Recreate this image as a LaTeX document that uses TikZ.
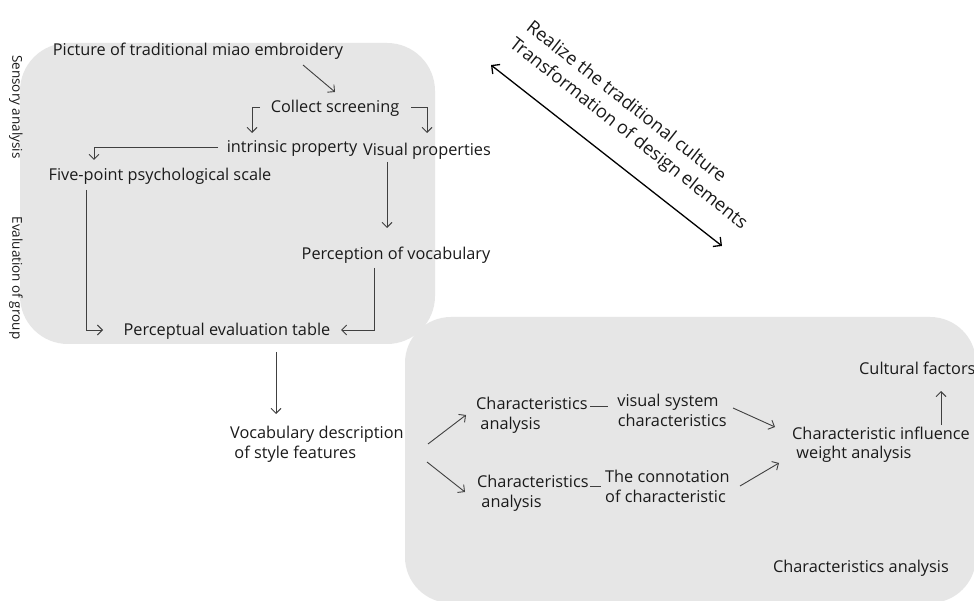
\documentclass[tikz,border=0pt]{standalone}
\usepackage{fontspec}
\setmainfont{Open Sans}
\usetikzlibrary{arrows.meta}
\definecolor{boxgray}{HTML}{E6E6E6}
\definecolor{txt}{HTML}{1A1A1A}
\definecolor{ln}{HTML}{404040}
\tikzset{
  lbl/.style={inner sep=0pt, text=txt, yshift=-1.5pt, font=\fontsize{16.3}{19.5}\selectfont},
  lbl2/.style={lbl, align=left},
  side/.style={inner sep=0pt, text=txt, font=\fontsize{13.5}{15}\selectfont, rotate=-90},
  rot/.style={inner sep=0pt, text=txt, font=\fontsize{18.2}{21}\selectfont, rotate=-38.2},
  conn/.style={draw=ln, line width=0.9pt, -{Straight Barb[length=5pt,width=10pt]}},
  plain/.style={draw=ln, line width=0.9pt},
  bigbox/.style={fill=boxgray, draw=none, rounded corners=48pt}
}
\begin{document}
\begin{tikzpicture}[x=1pt,y=-1pt]
\useasboundingbox (0,0) rectangle (974,601);
\fill[white] (0,0) rectangle (974,601);
% boxes
\path[bigbox] (20,43) rectangle (435,344);
\path[bigbox, rounded corners=46pt] (405,317) rectangle (976,603);

% side labels
\node[side] (sens) at (16,107) {Sensory analysis};
\node[side] (evg) at (16,278) {Evaluation of group};

% left box nodes
\node[lbl] (pic) at (198,50) {Picture of traditional miao embroidery};
\node[lbl] (col) at (335,107) {Collect screening};
\node[lbl] (intr) at (292,147) {intrinsic property};
\node[lbl] (vis) at (427,150) {Visual properties};
\node[lbl] (five) at (160,175) {Five-point psychological scale};
\node[lbl] (percv) at (396,254) {Perception of vocabulary};
\node[lbl] (pet) at (227,330) {Perceptual evaluation table};

% connector points
\coordinate (a1s) at (303,65); \coordinate (a1e) at (335,92);
\coordinate (bls) at (260,107); \coordinate (bl) at (252,107); \coordinate (ble) at (252,133);
\coordinate (brs) at (411,107); \coordinate (br) at (427,107); \coordinate (bre) at (427,133);
\coordinate (ils) at (218,147); \coordinate (il) at (94,147); \coordinate (ile) at (94,160);
\coordinate (fls) at (86,190); \coordinate (fl) at (86,330); \coordinate (fle) at (103,330);
\coordinate (vs) at (387,162); \coordinate (ve) at (387,228);
\coordinate (prs) at (374,268); \coordinate (pr) at (374,330); \coordinate (pre) at (341,330);
\coordinate (ds) at (276,352); \coordinate (de) at (276,414);

\draw[conn] (a1s) -- (a1e);
\draw[conn] (bls) -- (bl) -- (ble);
\draw[conn] (brs) -- (br) -- (bre);
\draw[conn] (ils) -- (il) -- (ile);
\draw[conn] (fls) -- (fl) -- (fle);
\draw[conn] (vs) -- (ve);
\draw[conn] (prs) -- (pr) -- (pre);
\draw[conn] (ds) -- (de);

% lower left
\node[lbl2, anchor=west] (voc) at (230,443) {Vocabulary description\\\ of style features};

% right box nodes
\node[lbl2, anchor=west] (ca1) at (476,414) {Characteristics\\\ analysis};
\node[lbl2, anchor=west] (ca2) at (477,492) {Characteristics\\\ analysis};
\node[lbl, align=center] (vsc) at (668,409) {visual system\\\ \ characteristics};
\node[lbl2, anchor=west] (con) at (605,485) {The connotation\\of characteristic};
\node[lbl2, anchor=west] (ciw) at (792,443) {Characteristic influence\\\ weight analysis};
\node[lbl, anchor=west] (cf) at (859,367) {Cultural factors};
\node[lbl] (can) at (861,567) {Characteristics analysis};

\coordinate (v1s) at (428,444); \coordinate (v1e) at (466,415);
\coordinate (v2s) at (427,462); \coordinate (v2e) at (465,492);
\coordinate (d1s) at (590,406); \coordinate (d1e) at (608,406);
\coordinate (d2s) at (590,486); \coordinate (d2e) at (601,486);
\coordinate (w1s) at (733,408); \coordinate (w1e) at (775,427);
\coordinate (w2s) at (740,486); \coordinate (w2e) at (779,463);
\coordinate (cus) at (941,425); \coordinate (cue) at (941,391);
\draw[conn] (v1s) -- (v1e);
\draw[conn] (v2s) -- (v2e);
\draw[plain] (d1s) -- (d1e);
\draw[plain] (d2s) -- (d2e);
\draw[conn] (w1s) -- (w1e);
\draw[conn] (w2s) -- (w2e);
\draw[conn] (cus) -- (cue);

% big double arrow and rotated labels
\coordinate (da1) at (491,65); \coordinate (da2) at (722,246);
\draw[black, line width=1.3pt, {Straight Barb[length=6pt,width=12pt]}-{Straight Barb[length=6pt,width=12pt]}] (da1) -- (da2);
\node[rot] (r1) at (627,101) {Realize the traditional culture};
\node[rot] (r2) at (628,134) {Transformation of design elements};
\end{tikzpicture}
\end{document}
